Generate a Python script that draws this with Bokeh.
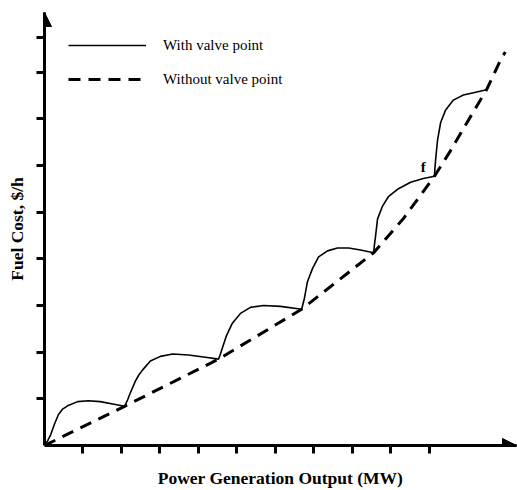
from bokeh.plotting import figure
from bokeh.models import (Range1d, FixedTicker, Label, Arrow, NormalHead,
                          Legend, LegendItem)
from bokeh.embed import file_html
from bokeh.resources import INLINE

# ---- data (arbitrary units: x in MW ticks, y in $/h ticks)
x_ticks = [1, 2, 3, 4, 5, 6, 7, 8, 9, 10]
y_ticks = [1, 2, 3, 4, 5, 6, 7, 8, 8.74]

with_vp_x = [0.00, 0.08, 0.16, 0.26, 0.36, 0.47, 0.60, 0.86, 1.14, 1.45, 1.77, 2.08,
             2.16, 2.23, 2.36, 2.45, 2.55, 2.75, 3.01, 3.33, 3.74, 4.18, 4.52,
             4.57, 4.62, 4.73, 4.88, 5.09, 5.35, 5.69, 6.13, 6.68,
             6.71, 6.75, 6.83, 6.96, 7.12, 7.35, 7.61, 7.90, 8.21, 8.55,
             8.57, 8.60, 8.65, 8.78, 8.94, 9.17, 9.51, 9.84, 10.13,
             10.14, 10.16, 10.21, 10.29, 10.42, 10.62, 10.88, 11.20, 11.48]
with_vp_y = [0.00, 0.10, 0.23, 0.46, 0.66, 0.78, 0.85, 0.94, 0.96, 0.94, 0.89, 0.84,
             0.98, 1.13, 1.38, 1.51, 1.62, 1.81, 1.91, 1.96, 1.94, 1.89, 1.85,
             1.96, 2.09, 2.36, 2.62, 2.83, 2.96, 3.00, 2.98, 2.92,
             3.02, 3.15, 3.51, 3.79, 4.04, 4.17, 4.23, 4.23, 4.19, 4.13,
             4.30, 4.49, 4.85, 5.13, 5.34, 5.49, 5.64, 5.72, 5.77,
             5.92, 6.13, 6.55, 6.92, 7.19, 7.40, 7.51, 7.57, 7.62]

without_vp_x = [0.00, 2.08, 4.52, 6.68, 8.55, 9.33, 10.13, 10.52, 10.91, 11.48, 11.87, 11.97]
without_vp_y = [0.00, 0.84, 1.85, 2.92, 4.13, 4.87, 5.77, 6.28, 6.83, 7.62, 8.30, 8.43]

legend_labels = ["With valve point", "Without valve point"]
x_title = "Power Generation Output (MW)"
y_title = "Fuel Cost, $/h"
point_label = "f"
point_label_xy = (9.77, 5.96)

X_END = 12.26
Y_END = 9.277

p = figure(width=517, height=490, output_backend="svg", toolbar_location=None,
           x_range=Range1d(0, X_END), y_range=Range1d(0, Y_END),
           min_border_left=44, min_border_right=1, min_border_top=12,
           min_border_bottom=42)
p.outline_line_color = None
p.grid.visible = False
p.background_fill_color = "white"
p.border_fill_color = "white"

for ax, ticks in ((p.xaxis, x_ticks), (p.yaxis, y_ticks)):
    ax.ticker = FixedTicker(ticks=ticks)
    ax.axis_line_width = 3
    ax.axis_line_color = "black"
    ax.major_tick_line_width = 3
    ax.major_tick_line_color = "black"
    ax.major_tick_out = 8
    ax.major_tick_in = 0
    ax.minor_tick_line_color = None
    ax.major_label_text_font_size = "0px"
    ax.major_label_text_color = None
    ax.major_label_standoff = 0
    ax.axis_label_text_font = "Liberation Serif"
    ax.axis_label_text_font_style = "bold"
    ax.axis_label_text_font_size = "17.5px"
    ax.axis_label_text_color = "black"

p.xaxis.axis_label = x_title
p.xaxis.axis_label_standoff = 14
p.yaxis.axis_label = y_title
p.yaxis.axis_label_standoff = 10

r_solid = p.line(with_vp_x, with_vp_y, line_color="black", line_width=1.6)
r_dash = p.line(without_vp_x, without_vp_y, line_color="black", line_width=3,
                line_dash="12 8")

# axis arrow heads
p.add_layout(Arrow(end=NormalHead(size=14, fill_color="black", line_color="black"),
                   x_start=0, y_start=Y_END - 0.3, x_end=0, y_end=Y_END,
                   line_width=3, line_color="black"))
p.add_layout(Arrow(end=NormalHead(size=14, fill_color="black", line_color="black"),
                   x_start=X_END - 0.4, y_start=0, x_end=X_END, y_end=0,
                   line_width=3, line_color="black"))

legend = Legend(items=[LegendItem(label=legend_labels[0], renderers=[r_solid]),
                       LegendItem(label=legend_labels[1], renderers=[r_dash])],
                location="top_left", margin=24, padding=0, spacing=16,
                glyph_width=78, glyph_height=18, label_height=18,
                label_standoff=17, border_line_color=None,
                background_fill_alpha=0,
                label_text_font="Liberation Serif", label_text_font_size="15px",
                label_text_color="black")
p.add_layout(legend)

p.add_layout(Label(x=point_label_xy[0], y=point_label_xy[1], text=point_label,
                   text_align="left", text_baseline="alphabetic",
                   text_font="Liberation Serif", text_font_style="bold",
                   text_font_size="15px", text_color="black"))

open("out.html", "w").write(file_html(p, INLINE))
